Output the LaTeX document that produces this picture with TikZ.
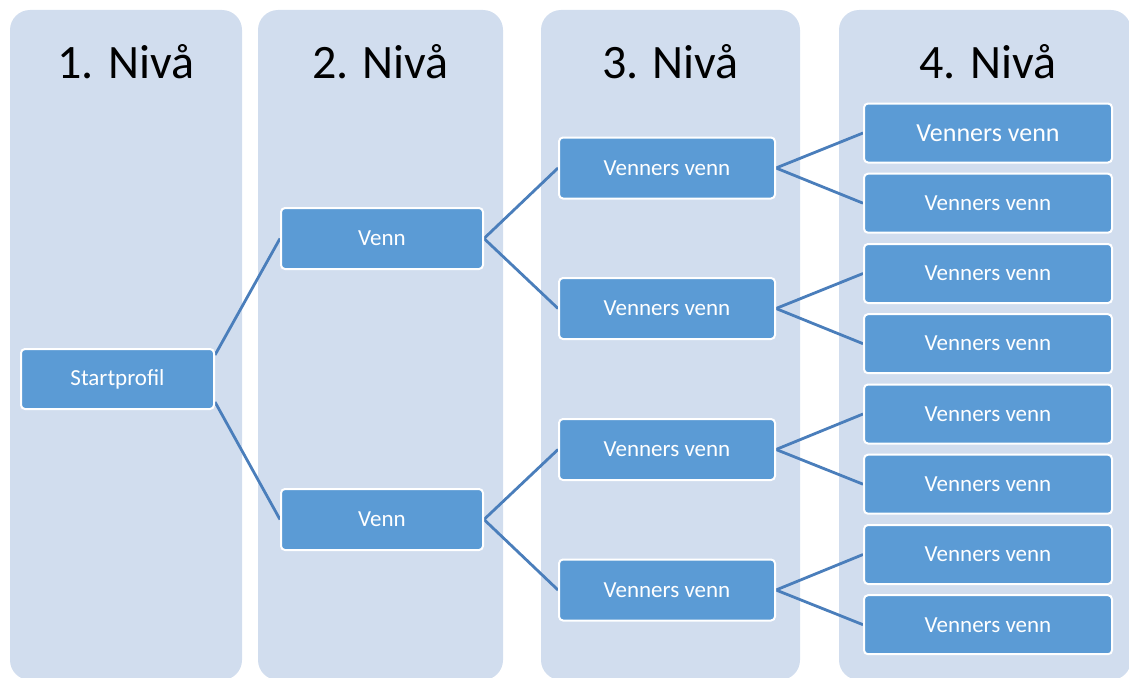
\documentclass[tikz,border=0pt]{standalone}
\usepackage{fontspec}
\setmainfont{Carlito}
\definecolor{colfill}{RGB}{209,221,238}
\definecolor{boxfill}{RGB}{91,155,213}
\definecolor{linkcol}{RGB}{74,126,187}
\pgfdeclarelayer{columns}
\pgfdeclarelayer{links}
\pgfsetlayers{columns,links,main}
\begin{document}
\begin{tikzpicture}[x=1pt,y=-1pt,
  column/.style={fill=colfill,rounded corners=20pt},
  heading/.style={anchor=base,font=\fontsize{48}{54}\selectfont,text=black,inner sep=0pt},
  box/.style={draw=white,line width=2pt,fill=boxfill,rounded corners=4pt,
    text=white,font=\fontsize{23}{26}\selectfont,inner sep=0pt},
  startbox/.style={box,minimum width=193pt,minimum height=60pt},
  friendbox/.style={box,minimum width=202pt,minimum height=61pt},
  fofbox/.style={box,minimum width=216pt,minimum height=61pt},
  leafbox/.style={box,minimum width=248pt,minimum height=59pt},
  link/.style={draw=linkcol,line width=2.8pt}]
\useasboundingbox (0,0) rectangle (1129,677);
% level columns
\begin{pgfonlayer}{columns}
\clip (0,0) rectangle (1129,677);
\fill[column] (10,10) rectangle (242,680);
\fill[column] (258,10) rectangle (503,680);
\fill[column] (541,10) rectangle (800,680);
\fill[column] (839,10) rectangle (1131,680);
\end{pgfonlayer}
% headings
\node[heading] (h1) at (126,78) {1. Nivå};
\node[heading] (h2) at (380.5,78) {2. Nivå};
\node[heading] (h3) at (670.5,78) {3. Nivå};
\node[heading] (h4) at (988,78) {4. Nivå};
% nodes
\node[startbox] (s) at (117.5,379) {Startprofil};
\node[friendbox] (v1) at (382,238.5) {Venn};
\node[friendbox] (v2) at (382,519.5) {Venn};
\node[fofbox] (f1) at (667,168) {Venners venn};
\node[fofbox] (f2) at (667,308.5) {Venners venn};
\node[fofbox] (f3) at (667,449.5) {Venners venn};
\node[fofbox] (f4) at (667,590) {Venners venn};
\node[leafbox,font=\fontsize{26}{30}\selectfont] (l1) at (988,133) {Venners venn};
\node[leafbox] (l2) at (988,203.2) {Venners venn};
\node[leafbox] (l3) at (988,273.5) {Venners venn};
\node[leafbox] (l4) at (988,343.7) {Venners venn};
\node[leafbox] (l5) at (988,414) {Venners venn};
\node[leafbox] (l6) at (988,484.2) {Venners venn};
\node[leafbox] (l7) at (988,554.5) {Venners venn};
\node[leafbox] (l8) at (988,624.7) {Venners venn};
% connectors
\begin{pgfonlayer}{links}
\draw[link] ([yshift=24pt]s.east) -- (v1.west);
\draw[link] ([yshift=-23pt]s.east) -- (v2.west);
\draw[link] (v1.east) -- (f1.west);
\draw[link] (v1.east) -- (f2.west);
\draw[link] (v2.east) -- (f3.west);
\draw[link] (v2.east) -- (f4.west);
\draw[link] (f1.east) -- (l1.west);
\draw[link] (f1.east) -- (l2.west);
\draw[link] (f2.east) -- (l3.west);
\draw[link] (f2.east) -- (l4.west);
\draw[link] (f3.east) -- (l5.west);
\draw[link] (f3.east) -- (l6.west);
\draw[link] (f4.east) -- (l7.west);
\draw[link] (f4.east) -- (l8.west);
\end{pgfonlayer}
\end{tikzpicture}
\end{document}
